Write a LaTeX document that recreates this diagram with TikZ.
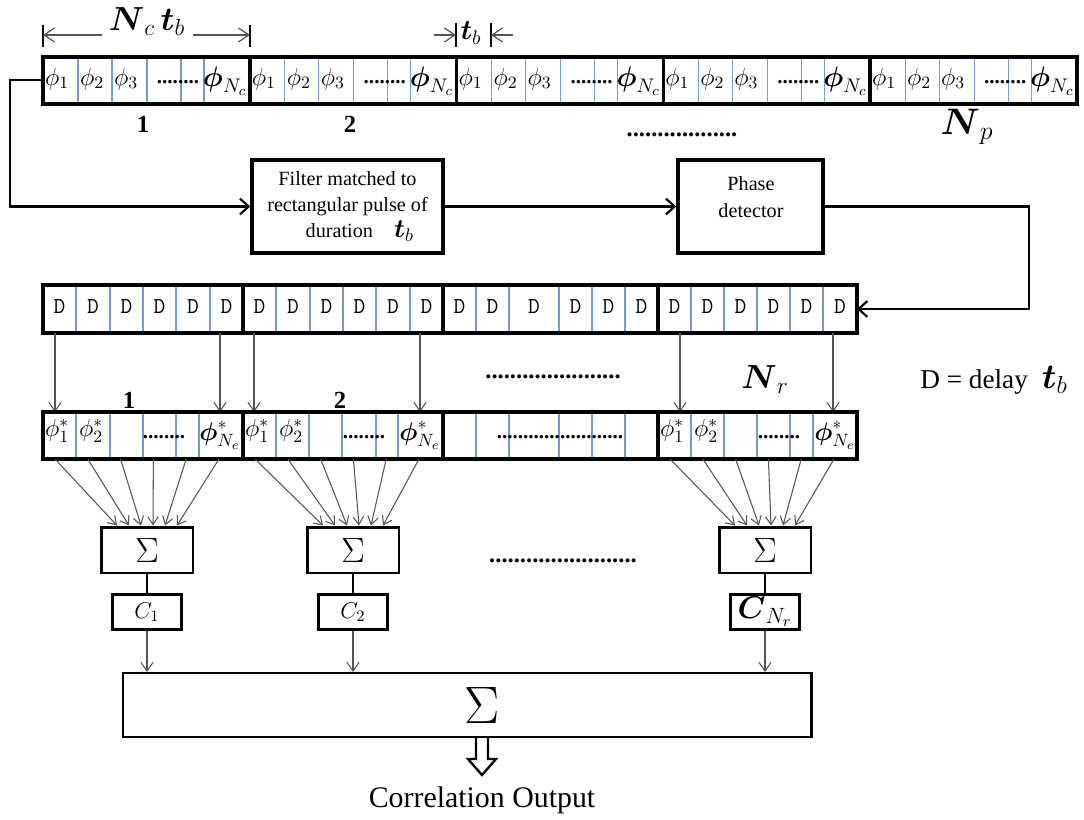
\RequirePackage{fix-cm}
\documentclass[tikz,border=0pt]{standalone}
\usepackage{amsmath}
\usepackage{fontspec}
\setmainfont{Liberation Serif}
\usetikzlibrary{positioning,calc,arrows.meta}
\definecolor{cellblue}{RGB}{110,155,210}
\definecolor{tapgray}{RGB}{85,85,85}
\tikzset{every picture/.style={line width=0.75pt}}
\newcommand{\fsz}[1]{\fontsize{#1}{#1}\selectfont}

\begin{document}
\begin{tikzpicture}[x=0.02cm, y=-0.02cm, >=stealth,
  every node/.style={inner sep=0pt},
  regbar/.style={draw, line width=2pt},
  cellsep/.style={draw=cellblue, line width=0.6pt},
  segsep/.style={line width=2pt},
  blockbox/.style={draw, line width=2pt, align=center, minimum height=1.86cm},
  sumbox/.style={draw, line width=1.7pt, minimum width=1.84cm, minimum height=0.92cm, font=\fsz{20}},
  cbox/.style={draw, line width=1.5pt, minimum width=1.38cm, minimum height=0.7cm, font=\fsz{13}},
  sig/.style={-{Straight Barb[length=5pt,width=9pt]}, line width=1.2pt},
  tap/.style={-{Straight Barb[length=5pt,width=7pt]}, draw=tapgray, line width=0.6pt},
  fan/.style={-{Straight Barb[length=4.5pt,width=6pt]}, draw=tapgray, line width=0.6pt},
  dimarrow/.style={-{Straight Barb[length=6pt,width=8pt]}, draw=tapgray, line width=0.7pt},
  dimtick/.style={line width=1.6pt},
  phlabel/.style={font=\fsz{14}},
  bphlabel/.style={font=\fsz{16}},
  dotlabel/.style={font=\bfseries\fsz{12}},
  dlabel/.style={font=\ttfamily\fsz{13}},
  numlabel/.style={font=\bfseries\fsz{14}}]
\useasboundingbox (0,0) rectangle (1084,820);

% dimension marks above the received code
\coordinate (ncL) at (43,35);  \coordinate (ncR) at (250,35);
\coordinate (ncLs) at (102,35); \coordinate (ncRs) at (193,35);
\draw[dimtick] (43,25) -- (43,47);
\draw[dimtick] (250,25) -- (250,47);
\draw[dimarrow] (ncLs) -- (ncL);
\draw[dimarrow] (ncRs) -- (ncR);
\node[font=\fsz{19}] (nctb) at (147,22) {$\boldsymbol{N}_{c}\,\boldsymbol{t}_{b}$};
\coordinate (tbL) at (456,35); \coordinate (tbR) at (491,35);
\coordinate (tbLs) at (434,35); \coordinate (tbRs) at (513,35);
\draw[dimtick] (456,23) -- (456,47);
\draw[dimtick] (491,23) -- (491,47);
\draw[dimarrow] (tbLs) -- (tbL);
\draw[dimarrow] (tbRs) -- (tbR);
\node[font=\fsz{16}] (tb) at (471,33) {$\boldsymbol{t}_{b}$};

% received phase code, N_p periods
\foreach \s in {0,...,4}{
  \pgfmathsetmacro{\xa}{43+206.8*\s}
  \foreach \o in {35,69,104,138,161}
    \draw[cellsep] (\xa+\o,57) -- (\xa+\o,104);
  \node[phlabel] (pa\s) at (\xa+14,79) {$\phi_1$};
  \node[phlabel] (pb\s) at (\xa+49,79) {$\phi_2$};
  \node[phlabel] (pc\s) at (\xa+83,79) {$\phi_3$};
  \node[dotlabel] (pd\s) at (\xa+135,82) {........};
  \node[bphlabel] (pe\s) at (\xa+182,81) {$\boldsymbol{\phi}_{N_c}$};
  \draw[segsep] (\xa,57) -- (\xa,104);
}
\draw[regbar] (43,57) rectangle (1077,104);
\node[numlabel] (n1) at (143,124) {1};
\node[numlabel] (n2) at (350,124) {2};
\node[font=\bfseries\fsz{14}] (topdots) at (682,135) {..................};
\node[font=\fsz{21}] (np) at (967,127) {$\boldsymbol{N}_{p}$};

% filter and phase detector
\node[blockbox, minimum width=3.82cm, font=\fontsize{11.5}{15}\selectfont] (filter) at (347.5,206.5)
  {Filter matched to\\rectangular pulse of\\\hspace*{14pt}duration\hspace{12pt}{\fsz{15}$\boldsymbol{t}_{b}$}};
\node[blockbox, minimum width=2.9cm] (phase) at (750.5,206.5) {};
\node[font=\fontsize{11.5}{15}\selectfont, align=center] (phasetxt) at (751,197) {Phase\\detector};

\coordinate (tapin) at (43,80);
\coordinate (dlyin) at (857,309);
\draw[sig] (tapin) -- ++(-33,0) |- (filter.west);
\draw[sig] (filter.east) -- (phase.west);
\draw[sig] (phase.east) -- ++(204,0) |- (dlyin);

% delay line
\foreach \xb [remember=\xb as \xp (initially 43), count=\i] in
  {76,110,143,176,210,243,276,310,343,376,410,443,476,509,559,592,625,658,691,724,757,790,823,857}{
  \draw[cellsep] (\xb,285) -- (\xb,333);
  \node[dlabel] (d\i) at ({(\xp+\xb)/2},307) {D};
}
\foreach \xs in {243,443,658}
  \draw[segsep] (\xs,285) -- (\xs,333);
\draw[regbar] (43,285) rectangle (857,333);
\node[font=\fsz{15.5}] (delaynote) at (994,380) {D = delay\hspace{8pt}{\fsz{20}$\boldsymbol{t}_{b}$}};

% taps to the reference code
\foreach \x [count=\i] in {55,220,254,420,680,833}{
  \coordinate (tapA\i) at (\x,333);
  \coordinate (tapB\i) at (\x,412);
  \draw[tap] (tapA\i) -- (tapB\i);
}
\node[numlabel] (m1) at (129,400) {1};
\node[numlabel] (m2) at (340,400) {2};
\node[font=\bfseries\fsz{14}] (middots) at (553,377) {......................};
\node[font=\fsz{19}] (nr) at (765,380) {$\boldsymbol{N}_{r}$};

% conjugate reference code
\foreach \xb in {76,110,143,176,199,243,276,309,342,376,398,443,476,509,559,592,625,658,691,724,757,790,813,857}
  \draw[cellsep] (\xb,412) -- (\xb,459);
\foreach \xs/\k in {43/1,243/2,658/3}{
  \node[phlabel] (ca\k) at (\xs+14,431) {$\phi_1^{*}$};
  \node[phlabel] (cb\k) at (\xs+48,431) {$\phi_2^{*}$};
  \node[dotlabel] (cd\k) at (\xs+121,437) {........};
  \node[font=\fsz{14.5}] (ce\k) at (\xs+177,435) {$\boldsymbol{\phi}_{N_e}^{*}$};
}
\node[dotlabel] (cdots) at (560,437) {........................};
\foreach \xs in {243,443,658}
  \draw[segsep] (\xs,412) -- (\xs,459);
\draw[regbar] (43,412) rectangle (857,459);

% partial sums
\foreach \xc/\xs [count=\j] in {147/43,353/243,765/658}{
  \node[sumbox] (sum\j) at (\xc,550) {$\Sigma$};
  \foreach \i in {0,...,5}{
    \coordinate (fo\j\i) at (\xs+12+32.8*\i,459);
    \draw[fan] (fo\j\i) -- ($(sum\j.north)+(-30+12*\i,0)$);
  }
}
\node[font=\bfseries\fsz{14}] (rowdots) at (563,561) {........................};

\node[cbox] (c1) at (147,612) {$C_{1}$};
\node[cbox] (c2) at (353,612) {$C_{2}$};
\node[cbox] (c3) at (765,612) {\fsz{18}$\boldsymbol{C}_{N_r}$};

% final sum
\node[draw, line width=1.2pt, minimum width=13.78cm, minimum height=1.28cm] (bigsum) at (467,705) {};
\node[font=\fsz{17}] (corrout) at (482,800) {Correlation Output};
\node[font=\fsz{30}] (bigsigma) at (bigsum.center -| corrout) {$\Sigma$};
\foreach \j in {1,2,3}{
  \draw[line width=1.5pt] (sum\j.south) -- (c\j.north);
  \draw[tap] (c\j.south) -- (c\j.south |- bigsum.north);
}
\coordinate (hol) at (bigsum.south -| corrout.north);
\draw[line width=1.3pt, line join=miter] (hol) ++(-6,0) -- ++(0,21) -- ++(-8,0) -- ++(14,16)
  -- ++(14,-16) -- ++(-8,0) -- ++(0,-21);
\end{tikzpicture}
\end{document}
